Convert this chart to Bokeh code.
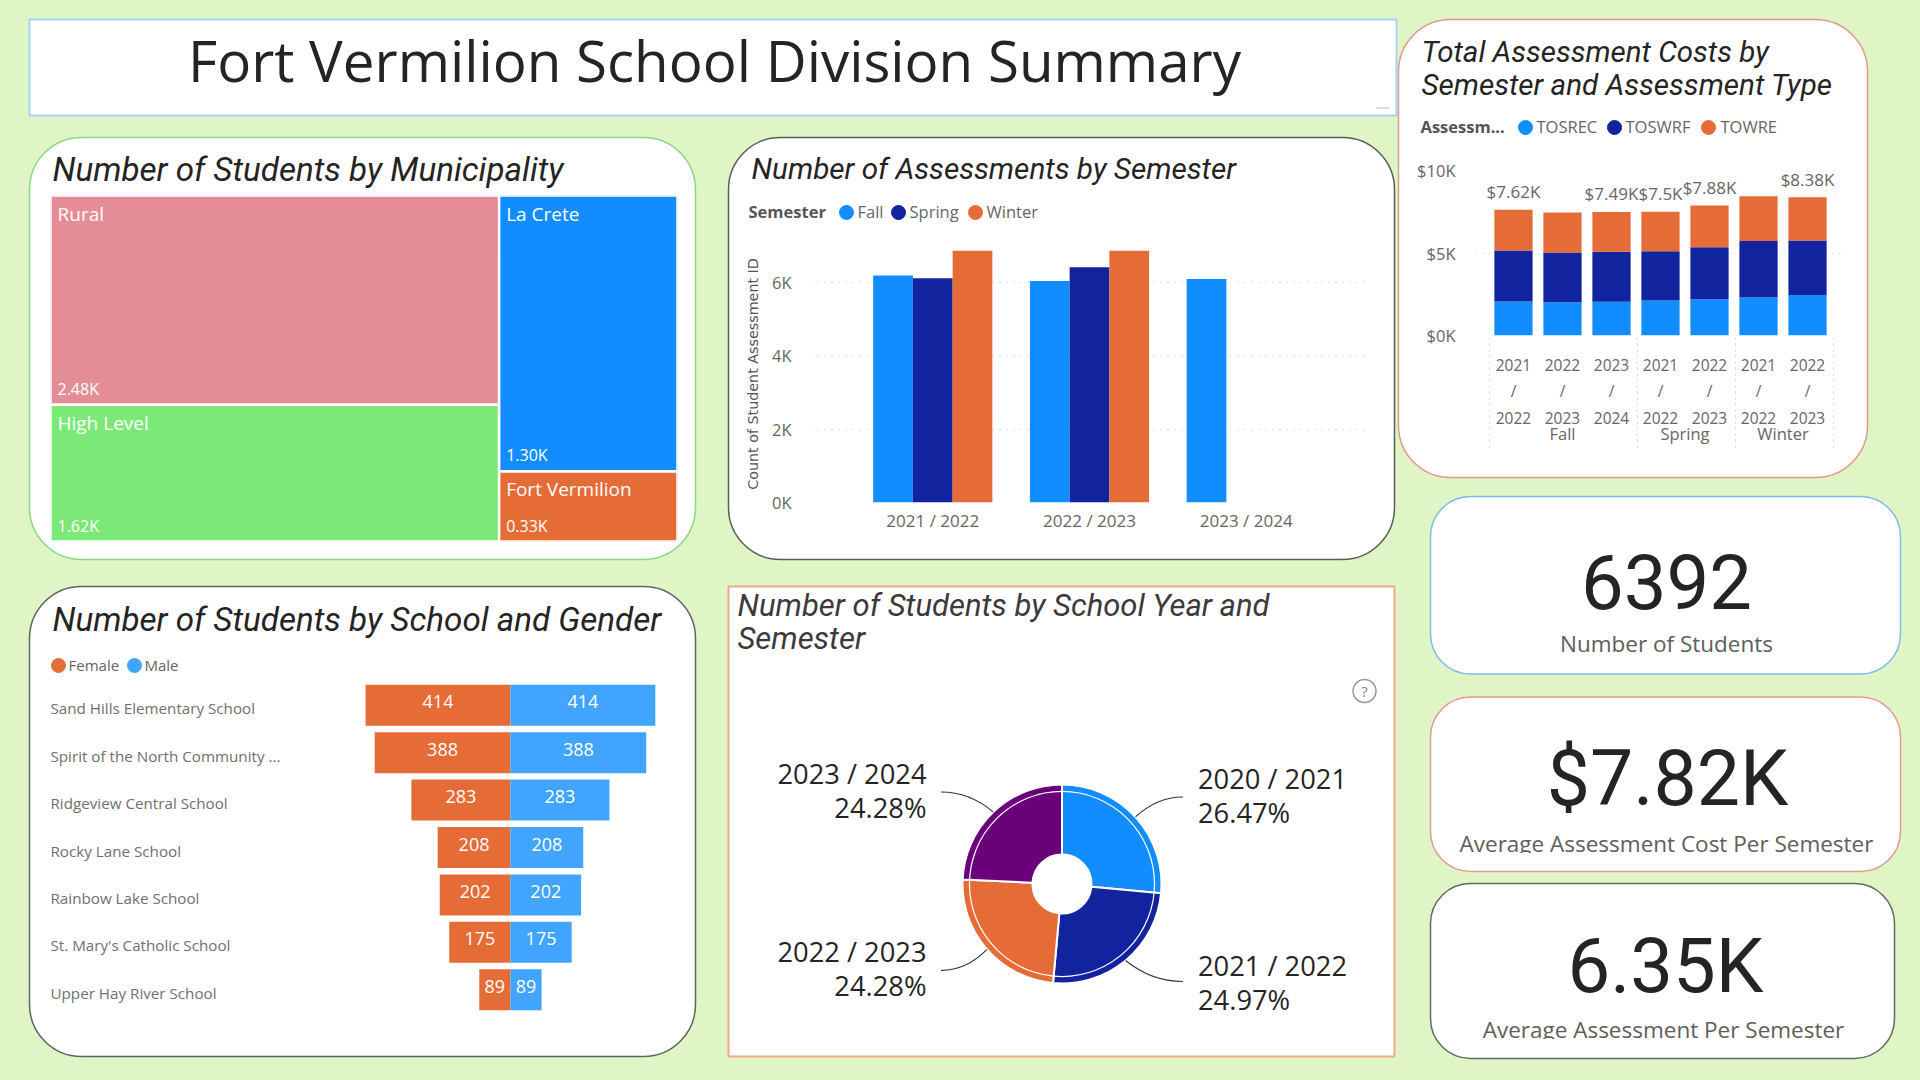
from bokeh.plotting import figure
from bokeh.layouts import row, column
from bokeh.models import (BoxAnnotation, Label, LabelSet, FactorRange, Range1d,
                          FixedTicker, ColumnDataSource)
from bokeh.transform import dodge
from bokeh.core.properties import value
from bokeh.embed import file_html
from bokeh.resources import INLINE
import math

# ---------- data ----------
MAIN_TITLE = "Fort Vermilion School Division Summary"

MUNICIPALITIES = ["Rural", "High Level", "La Crete", "Fort Vermilion"]
MUNICIPALITY_VALUES = [2480, 1620, 1300, 330]
MUNICIPALITY_LABELS = ["2.48K", "1.62K", "1.30K", "0.33K"]

SCHOOL_YEARS = ["2021 / 2022", "2022 / 2023", "2023 / 2024"]
ASSESS_FALL = [6180, 6030, 6090]
ASSESS_SPRING = [6110, 6410, 0]
ASSESS_WINTER = [6860, 6860, 0]
ASSESS_TICKS = [0, 2000, 4000, 6000]
ASSESS_TICK_LABELS = ["0K", "2K", "4K", "6K"]

COST_GROUPS = ["Fall", "Fall", "Fall", "Spring", "Spring", "Winter", "Winter"]
COST_SPACER = [" ", " ", " ", " ", " ", " ", " "]
COST_YEARS = ["\n2021\n/\n2022", "\n2022\n/\n2023", "\n2023\n/\n2024", "\n2021\n/\n2022",
              "\n2022\n/\n2023", "\n2021\n/\n2022", "\n2022\n/\n2023"]
COST_TOSREC = [2060, 2020, 2040, 2120, 2200, 2300, 2460]
COST_TOSWRF = [3090, 3010, 3030, 2990, 3150, 3420, 3300]
COST_TOWRE = [2470, 2420, 2420, 2390, 2530, 2720, 2620]
COST_LABELS = ["$7.62K", "", "$7.49K", "$7.5K", "$7.88K", "", "$8.38K"]
COST_TICKS = [0, 5000, 10000]
COST_TICK_LABELS = ["$0K", "$5K", "$10K"]

SCHOOLS = ["Sand Hills Elementary School", "Spirit of the North Community ...",
           "Ridgeview Central School", "Rocky Lane School", "Rainbow Lake School",
           "St. Mary's Catholic School", "Upper Hay River School"]
FEMALE = [414, 388, 283, 208, 202, 175, 89]
MALE = [414, 388, 283, 208, 202, 175, 89]

PIE_YEARS = ["2020 / 2021", "2021 / 2022", "2022 / 2023", "2023 / 2024"]
PIE_PCT = [26.47, 24.97, 24.28, 24.28]
PIE_COLORS = ["#118DFF", "#12239E", "#E66C37", "#6B007B"]

KPI_VALUES = ["6392", "$7.82K", "6.35K"]
KPI_NAMES = ["Number of Students", "Average Assessment Cost Per Semester", "Average Assessment Per Semester"]

# ---------- style ----------
PAGE = "#DFF5C6"
INK = "#252423"
GREY = "#666666"
BLUE, NAVY, ORANGE = "#118DFF", "#12239E", "#E66C37"
TITLE_FONT = "Roboto"
BODY_FONT = "Open Sans"
BASE_K = 0.38     # alphabetic-baseline correction, in ems


def make(box, frame, x_range, y_range, axes=False):
    L, T, R, B = box
    fl, ft, fr, fb = frame
    kw = {} if axes else dict(x_axis_location=None, y_axis_location=None)
    p = figure(width=R - L, height=B - T, x_range=x_range, y_range=y_range,
               output_backend="svg", toolbar_location=None, frame_align=False,
               min_border_left=fl - L, min_border_right=R - fr,
               min_border_top=ft - T, min_border_bottom=B - fb,
               background_fill_alpha=0, border_fill_alpha=0, outline_line_alpha=0, **kw)
    if not axes:
        p.grid.visible = False
    return p


class G:
    """Converts page pixels to a figure's frame-relative screen units."""
    def __init__(self, p, frame):
        self.p, self.fl, self.fb = p, frame[0], frame[3]

    def card(self, X0, Y0, X1, Y1, color, radius=0, lw=1.5):
        self.p.add_layout(BoxAnnotation(left=X0 - self.fl, right=X1 - self.fl, top=self.fb - Y0, bottom=self.fb - Y1,
                                        left_units="screen", right_units="screen", top_units="screen", bottom_units="screen",
                                        fill_color="white", fill_alpha=1, line_color=color, line_alpha=1, line_width=lw,
                                        border_radius=radius, level="image"))

    def box(self, X0, Y0, X1, Y1, fill, line=None, dash="solid", level="overlay"):
        self.p.add_layout(BoxAnnotation(left=X0 - self.fl, right=X1 - self.fl, top=self.fb - Y0, bottom=self.fb - Y1,
                                        left_units="screen", right_units="screen", top_units="screen", bottom_units="screen",
                                        fill_color=fill or "white", fill_alpha=1 if fill else 0,
                                        line_color=line or "white", line_alpha=1 if line else 0,
                                        line_dash=dash, line_width=1, level=level))

    def text(self, X, Y, s, size, color=INK, font=BODY_FONT, style="normal", align="left"):
        self.p.add_layout(Label(x=X - self.fl, y=self.fb - Y + BASE_K * size, x_units="screen", y_units="screen", text=s,
                                text_font=font, text_font_size=f"{size}px", text_color=color,
                                text_font_style=style, text_align=align, text_baseline="alphabetic"))

    def legend(self, Yc, names, colors, circle_xs, label_xs, size):
        """Backdrop figure only: its ranges are 0..1 over the whole page."""
        for n, c, cx_, lx in zip(names, colors, circle_xs, label_xs):
            self.p.scatter(x=[cx_ / 1920], y=[1 - Yc / 1080], marker="circle", size=14, fill_color=c, line_color=c)
            self.text(lx, Yc + 5.5, n, size, color=GREY)


def style_axis(ax, size=15):
    ax.axis_line_alpha = 0
    ax.major_tick_line_alpha = 0
    ax.minor_tick_line_alpha = 0
    ax.major_label_text_font = BODY_FONT
    ax.major_label_text_font_size = f"{size}px"
    ax.major_label_text_color = GREY


def dotted_grid(p):
    p.xgrid.visible = False
    p.ygrid.grid_line_color = "#CFCFCF"
    p.ygrid.grid_line_dash = "1 6"
    p.ygrid.grid_line_width = 1.5


# ---------- backdrop: cards, titles, legends, KPI tiles ----------
page_box = (0, 0, 1920, 1080)
bg = make(page_box, page_box, Range1d(0, 1), Range1d(0, 1))
g = G(bg, page_box)

g.card(29, 19, 1396, 115, "#A5D3F5", 0, 2)
g.box(1376, 107, 1389, 108, "#BBBBBB")
g.text(714, 81.5, MAIN_TITLE, 56.5, align="center")

g.card(29, 137, 695, 559, "#86D97F", 52)
g.text(52, 182, "Number of Students by Municipality", 33.2, font=TITLE_FONT, style="italic")

g.card(728, 137, 1394, 559, "#555F55", 52)
g.text(751, 179.5, "Number of Assessments by Semester", 29.7, font=TITLE_FONT, style="italic")
g.text(748, 217, "Semester", 16.5, color="#555555", style="bold")
g.legend(212, ["Fall", "Spring", "Winter"], [BLUE, NAVY, ORANGE], [846, 898, 975], [857, 909, 986], 16.5)

g.card(29, 586, 695, 1056, "#5D665D", 52)
g.text(52, 632, "Number of Students by School and Gender", 33.2, font=TITLE_FONT, style="italic")
g.legend(665, ["Female", "Male"], [ORANGE, "#41A5FF"], [58, 134], [68, 144], 15)

g.card(728, 586, 1394, 1056, "#EDAA83", 0, 2)
g.text(737, 616.5, "Number of Students by School Year and", 31, color="#3A3A3A", font=TITLE_FONT, style="italic")
g.text(737, 649.5, "Semester", 31, color="#3A3A3A", font=TITLE_FONT, style="italic")

g.card(1398, 19, 1867, 477, "#E3978F", 52)
g.text(1421, 62.5, "Total Assessment Costs by", 29.5, font=TITLE_FONT, style="italic")
g.text(1421, 95.5, "Semester and Assessment Type", 29.6, font=TITLE_FONT, style="italic")
g.text(1420, 132, "Assessm...", 16.5, color="#555555", style="bold")
g.legend(127, ["TOSREC", "TOSWRF", "TOWRE"], [BLUE, NAVY, ORANGE], [1525, 1614, 1708], [1536, 1625, 1720], 16.5)
for X in (1489, 1637, 1735, 1833):
    g.box(X, 337, X, 449, None, line="#CFCFCF", dash="1 5", level="image")

cards = [(1430, 496, 1900, 673.5, "#7DBDE8"), (1430, 696.5, 1900, 871, "#E39A92"), (1430, 883, 1894, 1058, "#616C61")]
val_pos = [(1666, 610), (1667, 807.5), (1665, 994)]
name_pos = [(1666, 652), (1666, 851.5), (1663, 1037.5)]
sizes = [76, 77, 76]
for c, vp, np_, s, v, n in zip(cards, val_pos, name_pos, sizes, KPI_VALUES, KPI_NAMES):
    g.card(c[0], c[1], c[2], c[3], c[4], 40)
    g.text(vp[0], vp[1], v, s, font="Roboto", align="center")
    g.text(np_[0], np_[1], n, 22.5, color="#605E5C", align="center")
    if n != KPI_NAMES[0]:
        g.box(c[0] + 40, np_[1] + 1, c[2] - 40, np_[1] + 9, "white")

# ---------- treemap ----------
box = (0, 125, 711, 572)
frame = (50, 195, 677, 541)
p_tree = make(box, frame, Range1d(0, 1), Range1d(0, 1))
total = sum(MUNICIPALITY_VALUES)
left_share = (MUNICIPALITY_VALUES[0] + MUNICIPALITY_VALUES[1]) / total
rural_share = MUNICIPALITY_VALUES[0] / (MUNICIPALITY_VALUES[0] + MUNICIPALITY_VALUES[1])
crete_share = MUNICIPALITY_VALUES[2] / (MUNICIPALITY_VALUES[2] + MUNICIPALITY_VALUES[3])
tree = ColumnDataSource(dict(
    l=[0, 0, left_share, left_share], r=[left_share, left_share, 1, 1],
    t=[1, 1 - rural_share, 1, 1 - crete_share], b=[1 - rural_share, 0, 1 - crete_share, 0],
    c=["#E48D96", "#7CE878", BLUE, ORANGE], name=MUNICIPALITIES, val=MUNICIPALITY_LABELS))
p_tree.quad(left="l", right="r", top="t", bottom="b", fill_color="c", line_color="white", line_width=2.5, source=tree)
p_tree.text(x="l", y="t", text="name", x_offset=7, y_offset=18, text_color="white", text_baseline="alphabetic",
            text_font=value(BODY_FONT), text_font_size="19px", source=tree)
p_tree.text(x="l", y="b", text="val", x_offset=7, y_offset=-16, text_color="white", text_baseline="alphabetic",
            text_font=value(BODY_FONT), text_font_size="16px", source=tree)

# ---------- clustered columns ----------
box = (711, 125, 1397, 572)
frame = (810, 245, 1368, 502)
p_col = make(box, frame, FactorRange(factors=SCHOOL_YEARS, range_padding=0.28, range_padding_units="absolute"),
             Range1d(0, 7000), axes=True)
src = ColumnDataSource(dict(x=SCHOOL_YEARS, f=ASSESS_FALL, s=ASSESS_SPRING, w=ASSESS_WINTER))
W = 0.2535
for col, off, c in (("f", -W, BLUE), ("s", 0, NAVY), ("w", W, ORANGE)):
    p_col.vbar(x=dodge("x", off, range=p_col.x_range), top=col, width=W, bottom=0, fill_color=c, line_color=None, source=src)
dotted_grid(p_col)
style_axis(p_col.xaxis[0], 17)
style_axis(p_col.yaxis[0], 16.5)
p_col.xaxis.major_label_standoff = 0
p_col.yaxis.ticker = FixedTicker(ticks=ASSESS_TICKS)
p_col.yaxis.major_label_overrides = dict(zip(ASSESS_TICKS, ASSESS_TICK_LABELS))
p_col.yaxis.major_label_standoff = 13
p_col.yaxis.axis_label = "Count of Student Assessment ID"
p_col.yaxis.axis_label_text_font = "DejaVu Sans"
p_col.yaxis.axis_label_text_font_style = "normal"
p_col.yaxis.axis_label_text_font_size = "14.3px"
p_col.yaxis.axis_label_text_color = "#555555"
p_col.yaxis.axis_label_standoff = 8

# ---------- funnel ----------
box = (0, 572, 711, 1080)
frame = (40, 681, 680, 1013)
p_fun = make(box, frame, Range1d(-1343, 486), FactorRange(factors=SCHOOLS[::-1]))
fsrc = ColumnDataSource(dict(y=SCHOOLS, f=FEMALE, m=MALE, fneg=[-v for v in FEMALE],
                             fmid=[-v / 2 for v in FEMALE], mmid=[v / 2 for v in MALE],
                             ft=[str(v) for v in FEMALE], mt=[str(v) for v in MALE]))
p_fun.hbar(y="y", left="fneg", right=0, height=0.865, fill_color=ORANGE, line_color=None, source=fsrc)
p_fun.hbar(y="y", left=0, right="m", height=0.865, fill_color="#41A5FF", line_color=None, source=fsrc)
for xc, tc in (("fmid", "ft"), ("mmid", "mt")):
    p_fun.text(x=xc, y="y", text=tc, y_offset=-3.5, text_color="white", text_align="center", text_baseline="middle",
               text_font=value(BODY_FONT), text_font_size="18px", source=fsrc)
p_fun.add_layout(LabelSet(x=10, x_units="screen", y="y", y_offset=-3, text="y", source=fsrc,
                          text_font=value(BODY_FONT), text_font_size="15.2px", text_color="#707070",
                          text_align="left", text_baseline="middle"))

# ---------- pie ----------
box = (711, 572, 1397, 1080)
frame = box
cx, cy, Rp = 1061.5, 883.5, 99.5
p_pie = make(box, frame, Range1d(711 - cx, 1397 - cx), Range1d(cy - 1080, cy - 572))
gp = G(p_pie, frame)
starts, ends, mids = [], [], []
acc = 0.0
for v in PIE_PCT:
    starts.append(math.pi / 2 - 2 * math.pi * (acc + v) / 100)
    ends.append(math.pi / 2 - 2 * math.pi * acc / 100)
    mids.append(2 * math.pi * (acc + v / 2) / 100)
    acc += v
p_pie.annular_wedge(x=0, y=0, inner_radius=29.5, outer_radius=Rp, start_angle=starts, end_angle=ends,
                    fill_color=PIE_COLORS, line_color="white", line_width=2)
p_pie.arc(x=0, y=0, radius=Rp * 0.93, start_angle=0, end_angle=2 * math.pi, line_color="white", line_width=1.2)
for i, th in enumerate(mids):
    sx, sy = Rp * math.sin(th), Rp * math.cos(th)
    sgn = 1 if sx > 0 else -1
    ex, ey = sgn * 121, sy + (20 if sy > 0 else -21)
    p_pie.quadratic(x0=[sx], y0=[sy], x1=[ex], y1=[ey], cx=[sx + (ex - sx) * 0.45], cy=[ey], line_color="#333333", line_width=1.1)
for name, pct, X, Y1, Y2, al in zip(PIE_YEARS, PIE_PCT,
                                    [1197.5, 1197.5, 926, 926], [788, 975, 961, 783], [822, 1009, 995, 817],
                                    ["left", "left", "right", "right"]):
    gp.text(X, Y1, name, 27.3, align=al)
    gp.text(X, Y2, f"{pct:.2f}%", 27.3, align=al)
p_pie.scatter(x=[1364 - cx], y=[cy - 690.5], marker="circle", size=23, fill_color="white", line_color="#999999", line_width=1.5)
gp.text(1364, 696, "?", 15, color="#888888", align="center")

# ---------- stacked costs ----------
box = (1397, 0, 1920, 487)
frame = (1475, 170, 1845, 335)
factors = list(zip(COST_GROUPS, COST_SPACER, COST_YEARS))
p_cost = make(box, frame, FactorRange(factors=factors, group_padding=0, factor_padding=0, subgroup_padding=0,
                                      range_padding=0.275, range_padding_units="absolute"),
              Range1d(0, 10000), axes=True)
csrc = ColumnDataSource(dict(x=factors, TOSREC=COST_TOSREC, TOSWRF=COST_TOSWRF, TOWRE=COST_TOWRE,
                             total=[a + b + c for a, b, c in zip(COST_TOSREC, COST_TOSWRF, COST_TOWRE)],
                             label=COST_LABELS))
p_cost.vbar_stack(["TOSREC", "TOSWRF", "TOWRE"], x="x", width=0.78, color=[BLUE, NAVY, ORANGE], line_color=None, source=csrc)
p_cost.text(x="x", y="total", text="label", y_offset=-18, text_color=GREY, text_align="center", text_baseline="middle",
            text_font=value(BODY_FONT), text_font_size="17px", source=csrc)
dotted_grid(p_cost)
style_axis(p_cost.xaxis[0], 15.5)
style_axis(p_cost.yaxis[0], 16.5)
p_cost.xaxis.separator_line_alpha = 0
p_cost.xaxis.group_text_font = BODY_FONT
p_cost.xaxis.group_text_font_size = "16.5px"
p_cost.xaxis.group_text_color = GREY
p_cost.xaxis.group_text_font_style = "normal"
p_cost.xaxis.subgroup_text_font_size = "13px"
p_cost.xaxis.major_label_standoff = -14
p_cost.xaxis.major_label_orientation = "horizontal"
p_cost.yaxis.ticker = FixedTicker(ticks=COST_TICKS)
p_cost.yaxis.major_label_overrides = dict(zip(COST_TICKS, COST_TICK_LABELS))
p_cost.yaxis.major_label_standoff = 14

# ---------- page ----------
charts = row(column(row(p_tree, p_col, margin=(125, 0, 0, 0)), row(p_fun, p_pie)), p_cost, margin=(-1080, 0, 0, 0))
page = column(bg, charts)
html = file_html(page, INLINE)
html = html.replace("</head>", f"<style>html,body{{background:{PAGE};margin:0;overflow:hidden}}</style></head>", 1)
open("out.html", "w").write(html)
